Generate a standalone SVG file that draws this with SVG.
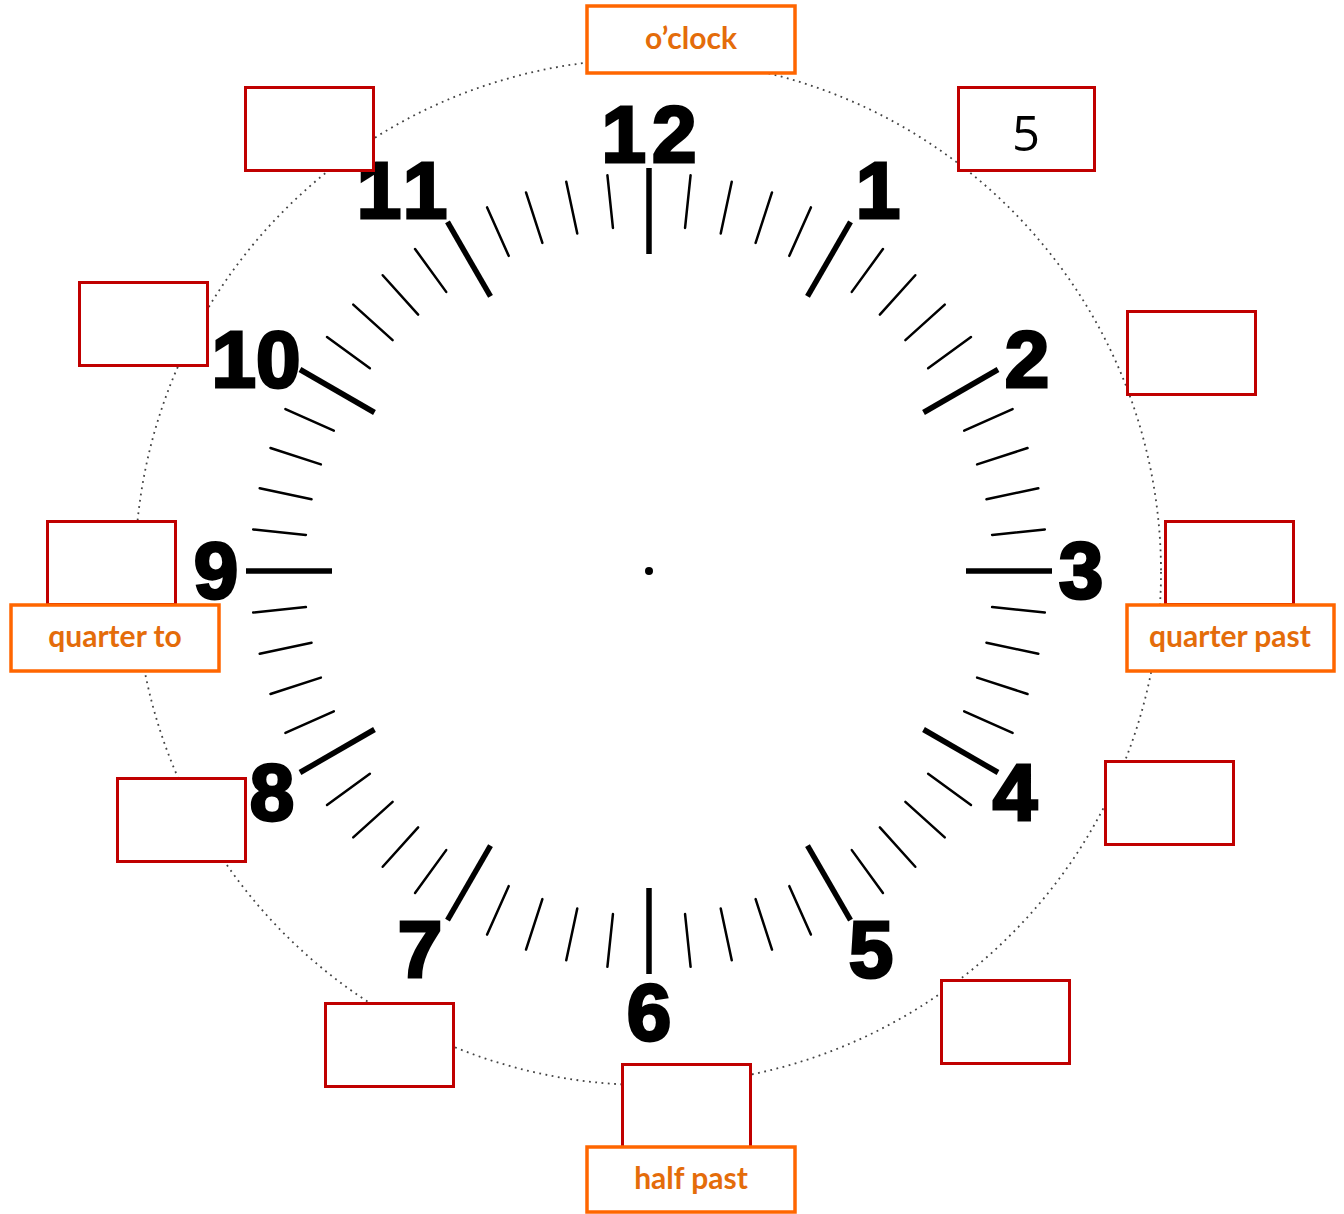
<svg xmlns="http://www.w3.org/2000/svg" xmlns:xlink="http://www.w3.org/1999/xlink" width="1344" height="1214" viewBox="0 0 1344 1214">
<style>
.num{font-family:"Liberation Sans",Arial,sans-serif;font-weight:bold;font-size:80px;fill:#000;stroke:#000;stroke-width:3;text-anchor:middle}
.wide{letter-spacing:6px}
.red{fill:#fff;stroke:#c00000;stroke-width:3}
.org{fill:#fff;stroke:#ff6600;stroke-width:3.5}
.lbl{font-family:Lato,"Open Sans",sans-serif;font-weight:bold;font-size:30px;fill:#e46c0a;text-anchor:middle}
.mn{stroke:#000;stroke-width:2.5;stroke-linecap:round}
.mj{stroke:#000;stroke-width:5.5}
</style>
<defs>
<line id="m" class="mn" x1="649" y1="173" x2="649" y2="226"/>
<line id="M" class="mj" x1="649" y1="168" x2="649" y2="254"/>
</defs>
<rect width="1344" height="1214" fill="#fff"/>
<circle cx="648" cy="572" r="513" fill="none" stroke="#444" stroke-width="1.8" stroke-dasharray="1.8 4.5"/>
<g id="ticks">
<use href="#M"/><use href="#m" transform="rotate(6 649 571)"/><use href="#m" transform="rotate(12 649 571)"/><use href="#m" transform="rotate(18 649 571)"/><use href="#m" transform="rotate(24 649 571)"/>
<use href="#M" transform="rotate(30 649 571)"/><use href="#m" transform="rotate(36 649 571)"/><use href="#m" transform="rotate(42 649 571)"/><use href="#m" transform="rotate(48 649 571)"/><use href="#m" transform="rotate(54 649 571)"/>
<use href="#M" transform="rotate(60 649 571)"/><use href="#m" transform="rotate(66 649 571)"/><use href="#m" transform="rotate(72 649 571)"/><use href="#m" transform="rotate(78 649 571)"/><use href="#m" transform="rotate(84 649 571)"/>
<use href="#M" transform="rotate(90 649 571)"/><use href="#m" transform="rotate(96 649 571)"/><use href="#m" transform="rotate(102 649 571)"/><use href="#m" transform="rotate(108 649 571)"/><use href="#m" transform="rotate(114 649 571)"/>
<use href="#M" transform="rotate(120 649 571)"/><use href="#m" transform="rotate(126 649 571)"/><use href="#m" transform="rotate(132 649 571)"/><use href="#m" transform="rotate(138 649 571)"/><use href="#m" transform="rotate(144 649 571)"/>
<use href="#M" transform="rotate(150 649 571)"/><use href="#m" transform="rotate(156 649 571)"/><use href="#m" transform="rotate(162 649 571)"/><use href="#m" transform="rotate(168 649 571)"/><use href="#m" transform="rotate(174 649 571)"/>
<use href="#M" transform="rotate(180 649 571)"/><use href="#m" transform="rotate(186 649 571)"/><use href="#m" transform="rotate(192 649 571)"/><use href="#m" transform="rotate(198 649 571)"/><use href="#m" transform="rotate(204 649 571)"/>
<use href="#M" transform="rotate(210 649 571)"/><use href="#m" transform="rotate(216 649 571)"/><use href="#m" transform="rotate(222 649 571)"/><use href="#m" transform="rotate(228 649 571)"/><use href="#m" transform="rotate(234 649 571)"/>
<use href="#M" transform="rotate(240 649 571)"/><use href="#m" transform="rotate(246 649 571)"/><use href="#m" transform="rotate(252 649 571)"/><use href="#m" transform="rotate(258 649 571)"/><use href="#m" transform="rotate(264 649 571)"/>
<use href="#M" transform="rotate(270 649 571)"/><use href="#m" transform="rotate(276 649 571)"/><use href="#m" transform="rotate(282 649 571)"/><use href="#m" transform="rotate(288 649 571)"/><use href="#m" transform="rotate(294 649 571)"/>
<use href="#M" transform="rotate(300 649 571)"/><use href="#m" transform="rotate(306 649 571)"/><use href="#m" transform="rotate(312 649 571)"/><use href="#m" transform="rotate(318 649 571)"/><use href="#m" transform="rotate(324 649 571)"/>
<use href="#M" transform="rotate(330 649 571)"/><use href="#m" transform="rotate(336 649 571)"/><use href="#m" transform="rotate(342 649 571)"/><use href="#m" transform="rotate(348 649 571)"/><use href="#m" transform="rotate(354 649 571)"/>
<circle cx="649" cy="571" r="4" fill="#000"/>
</g>
<g id="numbers">
<text class="num wide" x="652" y="162">12</text>
<text class="num" x="878" y="218">1</text>
<text class="num" x="1027" y="387">2</text>
<text class="num" x="1081" y="598">3</text>
<text class="num" x="1015" y="820">4</text>
<text class="num" x="871" y="977">5</text>
<text class="num" x="649" y="1040">6</text>
<text class="num" x="420" y="977">7</text>
<text class="num" x="272" y="820">8</text>
<text class="num" x="216" y="598">9</text>
<text class="num" x="256" y="387">10</text>
<text class="num wide" x="405" y="218">11</text>
</g>
<g id="box-55"><rect class="red" x="245.5" y="87.5" width="128" height="83"/></g>
<g id="box-5"><rect class="red" x="958.5" y="87.5" width="136" height="83"/><text x="1026" y="151" font-family="'Open Sans',sans-serif" font-size="49" text-anchor="middle" fill="#000">5</text></g>
<g id="box-50"><rect class="red" x="79.5" y="282.5" width="128" height="83"/></g>
<g id="box-10"><rect class="red" x="1127.5" y="311.5" width="128" height="83"/></g>
<g id="box-45"><rect class="red" x="47.5" y="521.5" width="128" height="83"/></g>
<g id="box-15"><rect class="red" x="1165.5" y="521.5" width="128" height="83"/></g>
<g id="box-40"><rect class="red" x="117.5" y="778.5" width="128" height="83"/></g>
<g id="box-20"><rect class="red" x="1105.5" y="761.5" width="128" height="83"/></g>
<g id="box-35"><rect class="red" x="325.5" y="1003.5" width="128" height="83"/></g>
<g id="box-25"><rect class="red" x="941.5" y="980.5" width="128" height="83"/></g>
<g id="box-30"><rect class="red" x="622.5" y="1064.5" width="128" height="83"/></g>
<g id="label-oclock"><rect class="org" x="587" y="6" width="208" height="67"/><text class="lbl" x="691" y="49">o’clock</text></g>
<g id="label-quarter-to"><rect class="org" x="11" y="605" width="208" height="66"/><text class="lbl" x="115" y="647">quarter to</text></g>
<g id="label-quarter-past"><rect class="org" x="1127" y="605" width="207" height="66"/><text class="lbl" x="1230" y="647">quarter past</text></g>
<g id="label-half-past"><rect class="org" x="587" y="1147" width="208" height="65"/><text class="lbl" x="691" y="1189">half past</text></g>
</svg>
